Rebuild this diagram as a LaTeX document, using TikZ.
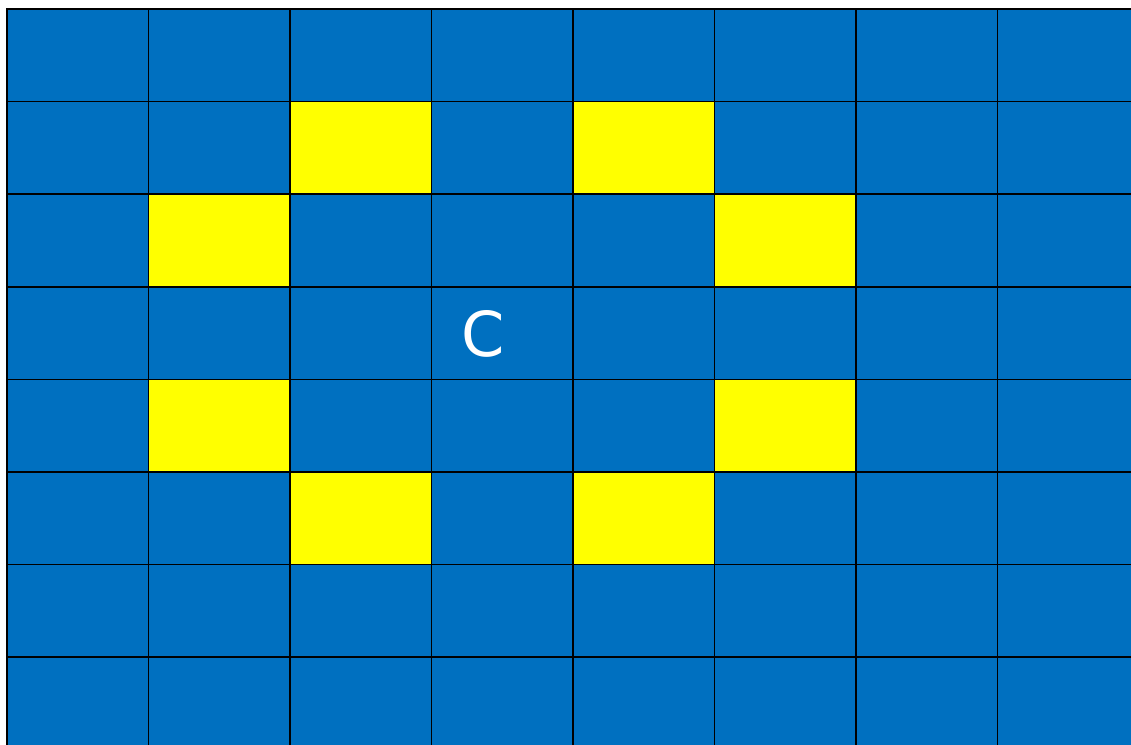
\documentclass[tikz,border=0pt]{standalone}
\usepackage{fontspec}
\setmainfont{DejaVu Sans}
\definecolor{cellblue}{HTML}{0070C0}
\definecolor{cellyellow}{HTML}{FFFF00}
\begin{document}
\begin{tikzpicture}[x=1pt,y=-1pt,
  cellbox/.style={fill=cellblue,draw=black,line width=1.6pt},
  hitbox/.style={fill=cellyellow,draw=black,line width=1.6pt}]
\useasboundingbox (0,0) rectangle (1131,744);
\pgfmathsetmacro{\cw}{141.5}
\pgfmathsetmacro{\ch}{92.6}
\foreach \r in {0,...,7}{
  \foreach \c in {0,...,7}{
    \pgfmathsetmacro{\xa}{7+\c*\cw}
    \pgfmathsetmacro{\ya}{9+\r*\ch}
    \draw[cellbox] (\xa,\ya) rectangle ++(\cw,\ch);
  }
}
\foreach \c/\r in {2/1,4/1,1/2,5/2,1/4,5/4,2/5,4/5}{
  \pgfmathsetmacro{\xa}{7+\c*\cw}
  \pgfmathsetmacro{\ya}{9+\r*\ch}
  \draw[hitbox] (\xa,\ya) rectangle ++(\cw,\ch);
}
\node[text=white,font=\fontsize{62}{62}\selectfont,inner sep=0pt] (center) at (483,333.5) {C};
\end{tikzpicture}
\end{document}
